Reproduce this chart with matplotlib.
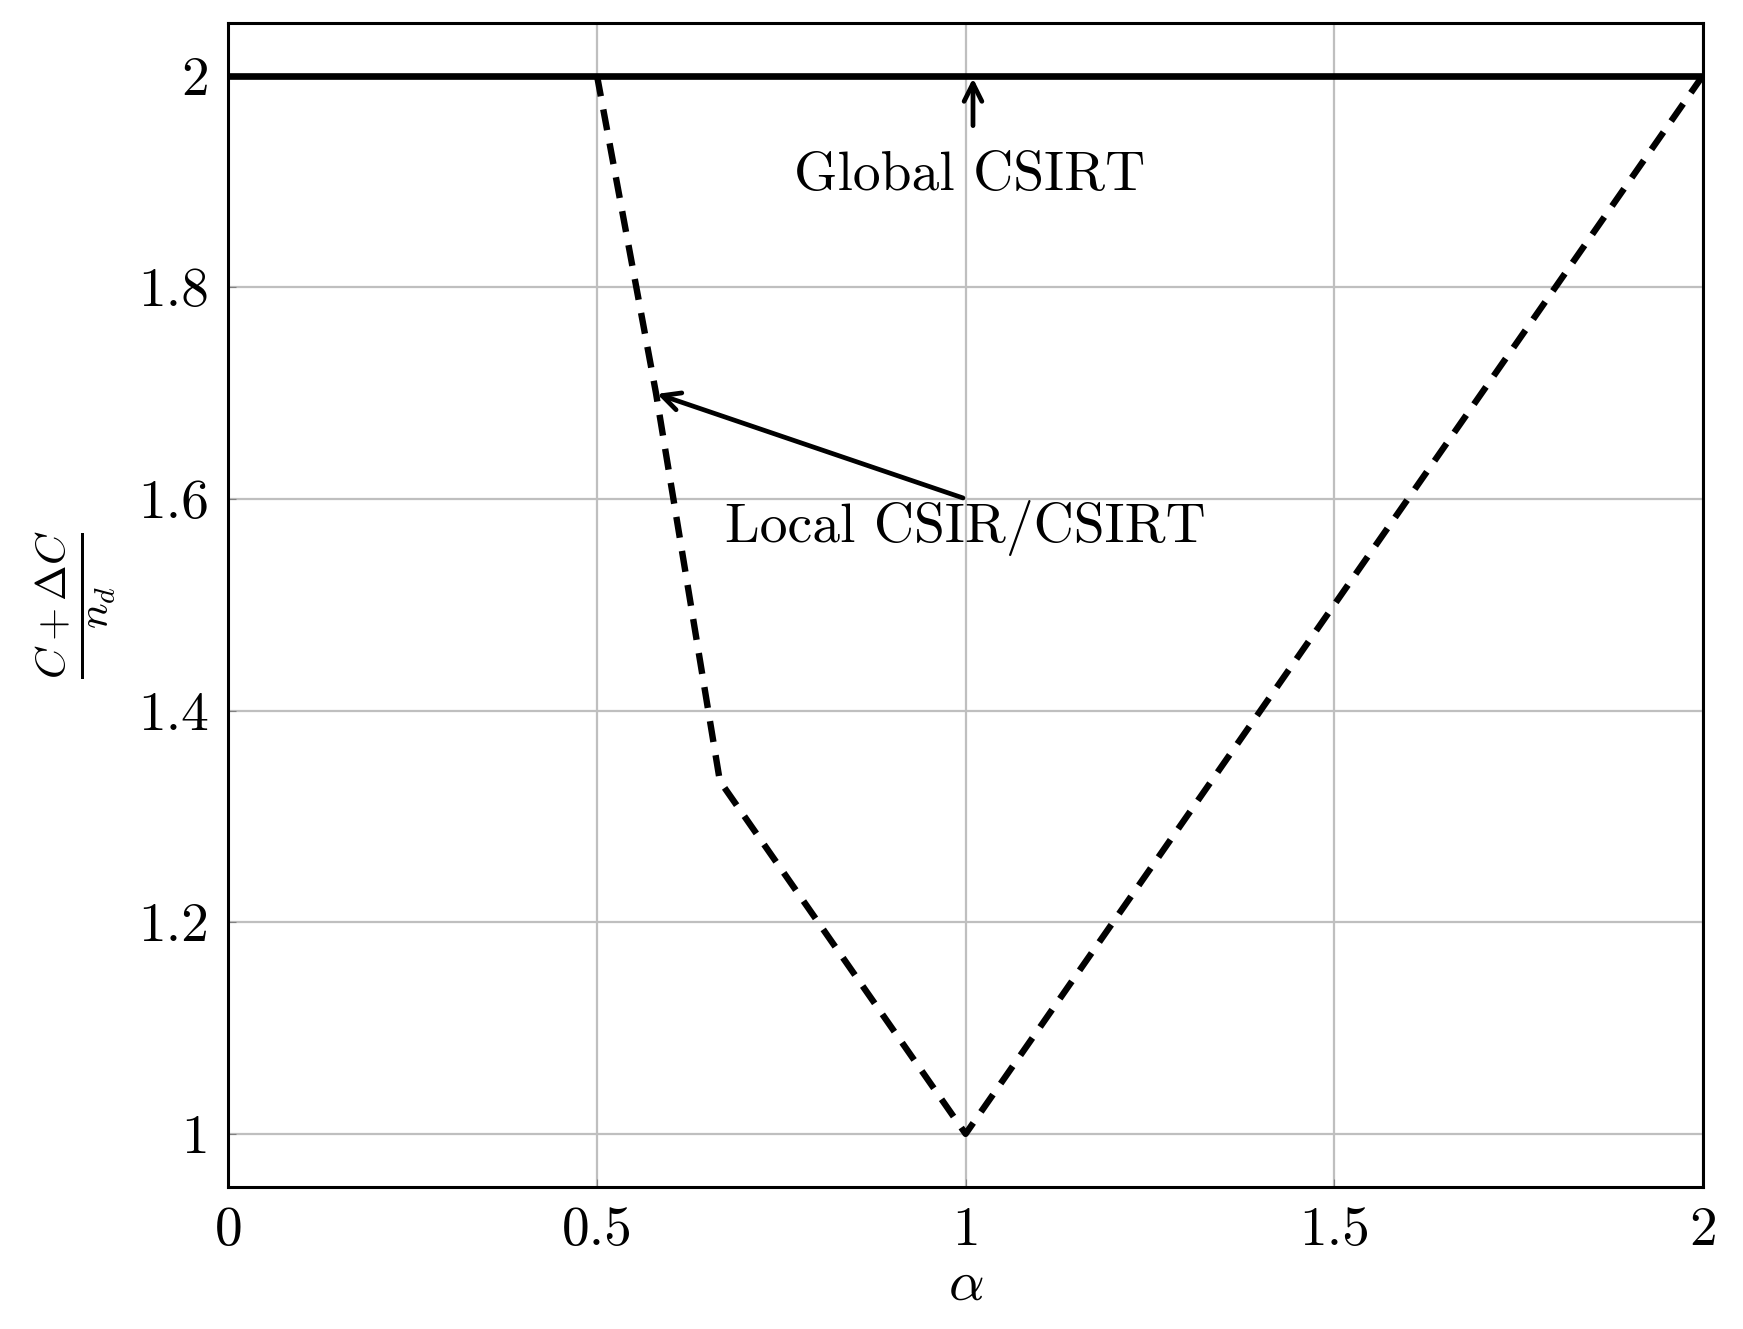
import matplotlib
matplotlib.use("Agg")
import matplotlib.pyplot as plt

plt.rcParams['font.family'] = 'serif'
plt.rcParams['font.serif'] = ['cmr10']
plt.rcParams['mathtext.fontset'] = 'cm'
plt.rcParams['axes.formatter.use_mathtext'] = True

# data
global_x = [0, 2]
global_y = [2, 2]
local_x = [0.5, 0.58, 2/3, 1.0, 2.0]
local_y = [2.0, 1.70, 4/3, 1.0, 2.0]
xticks = [0, 0.5, 1, 1.5, 2]
xtick_labels = ["0", "0.5", "1", "1.5", "2"]
yticks = [1, 1.2, 1.4, 1.6, 1.8, 2]
ytick_labels = ["1", "1.2", "1.4", "1.6", "1.8", "2"]

fig = plt.figure(figsize=(17.43, 13.29), dpi=100)
ax = fig.add_axes([0.131, 0.107, 0.846, 0.876])

ax.plot(global_x, global_y, color='black', lw=4.8, solid_capstyle='butt', zorder=3)
ax.plot(local_x, local_y, color='black', lw=4.6, linestyle=(0, (3.3, 2.1)),
        dash_capstyle='butt', zorder=3)

ax.set_xlim(0, 2)
ax.set_ylim(0.95, 2.05)
ax.set_xticks(xticks)
ax.set_xticklabels(xtick_labels)
ax.set_yticks(yticks)
ax.set_yticklabels(ytick_labels)
ax.grid(True, color='#bfbfbf', lw=1.6, zorder=0)
ax.tick_params(direction='in', length=6, width=0.8, color='#808080', labelsize=40, pad=14)
for s in ax.spines.values():
    s.set_linewidth(2.2)

ax.set_xlabel(r'$\alpha$', fontsize=40, labelpad=4)
ax.set_ylabel(r'$\frac{C+\Delta C}{n_d}$', fontsize=44, labelpad=14)

ax.annotate('', xy=(1.01, 2.0), xytext=(1.01, 1.95),
            arrowprops=dict(arrowstyle='->', lw=3.4, color='black', mutation_scale=32))
ax.text(1.005, 1.905, 'Global CSIRT', fontsize=40, ha='center', va='center')

ax.annotate('', xy=(0.578, 1.70), xytext=(1.0, 1.6),
            arrowprops=dict(arrowstyle='->', lw=3.4, color='black', mutation_scale=32))
ax.text(1.0, 1.572, 'Local CSIR/CSIRT', fontsize=40, ha='center', va='center')

fig.savefig('out.png', dpi=100)
